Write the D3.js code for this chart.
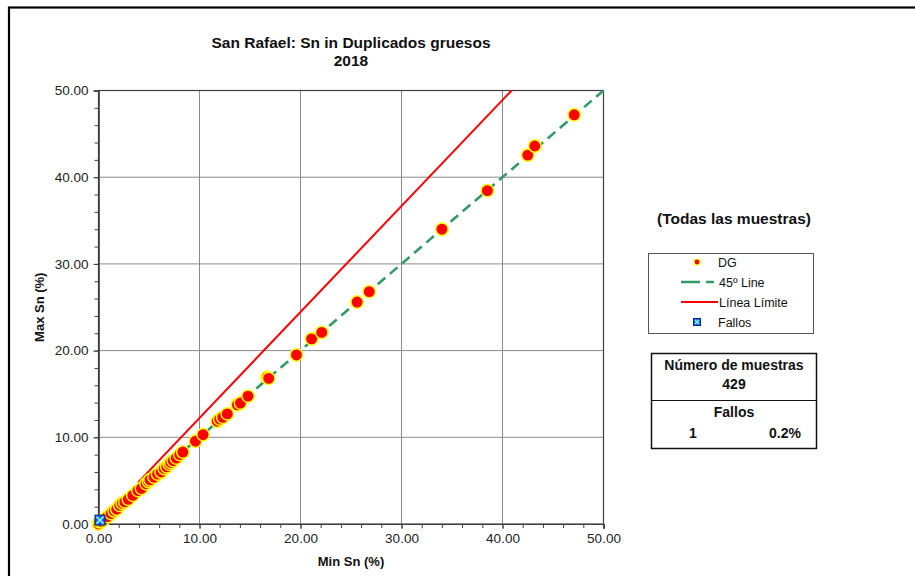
<!DOCTYPE html>
<html>
<head>
<meta charset="utf-8">
<script src="https://cdn.jsdelivr.net/npm/d3@7"></script>
<style>
  html, body { margin: 0; padding: 0; background: #fff; }
  svg { display: block; font-family: "Liberation Sans", Arial, sans-serif; }
</style>
</head>
<body>
<svg id="chart" width="915" height="576"></svg>
<script>
// Duplicate pairs (coarse duplicates, Sn %): lower and higher of each pair
const minSn = [
  0.00, 0.10, 0.30, 0.55, 0.90, 1.25, 1.55, 1.80, 2.10, 2.35, 2.60, 2.95, 3.40,
  3.90, 4.25, 4.70, 4.95, 5.10, 5.50, 5.85, 6.20, 6.50, 6.75, 7.00, 7.15, 7.40,
  7.70, 8.05, 8.35,
  9.60, 10.35, 11.75, 12.00, 12.30, 12.75, 13.75, 14.05, 14.80, 16.70, 16.85,
  19.60, 21.10, 22.10, 25.60, 26.80, 34.00, 38.50, 42.50, 43.20, 47.10
];
const maxSn = [
  0.00, 0.25, 0.30, 0.50, 0.85, 1.20, 1.50, 1.70, 2.15, 2.40, 2.55, 2.85, 3.30,
  3.85, 4.10, 4.65, 4.90, 5.10, 5.40, 5.75, 6.00, 6.40, 6.60, 6.90, 7.10, 7.30,
  7.60, 8.00, 8.30,
  9.55, 10.30, 11.85, 12.10, 12.30, 12.70, 13.75, 13.95, 14.75, 16.90, 16.80,
  19.50, 21.35, 22.10, 25.60, 26.80, 34.00, 38.45, 42.55, 43.60, 47.20
];

// Reference 1:1 line and the acceptance limit line (max = min * 11/9)
const line45X = [0, 50];
const line45Y = [0, 50];
const limitX = [3.9, 40.9];
const limitY = [4.77, 50];

// Failed pairs
const fallosMin = [0.15];
const fallosMax = [0.45];

const axisTicks = [0, 10, 20, 30, 40, 50];
const minorTicks = d3.range(0, 50.001, 2);

const titleLines = ["San Rafael: Sn in Duplicados gruesos", "2018"];
const xLabel = "Min Sn (%)";
const yLabel = "Max Sn (%)";
const subsetLabel = "(Todas las muestras)";
const legendItems = ["DG", "45º Line", "Línea Límite", "Fallos"];
const totalSamples = 429;
const fallosCount = 1;
const fallosPct = "0.2%";

const svg = d3.select("#chart");
const x = d3.scaleLinear().domain([0, 50]).range([98.5, 603.5]);
const y = d3.scaleLinear().domain([0, 50]).range([524, 90.5]);

// outer frame
svg.append("rect").attr("x", 9).attr("y", 7.5).attr("width", 940).attr("height", 600)
  .attr("fill", "none").attr("stroke", "#000").attr("stroke-width", 2.2);

// title
svg.append("g").selectAll("text").data(titleLines).join("text")
  .attr("x", (x(0) + x(50)) / 2).attr("y", (d, i) => 48 + i * 18)
  .attr("text-anchor", "middle").attr("font-size", 15.5).attr("font-weight", "bold")
  .attr("fill", "#111").text(d => d);

// grid
const grid = svg.append("g");
grid.selectAll("line.gx").data(axisTicks.slice(1, -1)).join("line")
  .attr("x1", d => x(d)).attr("x2", d => x(d)).attr("y1", y(0)).attr("y2", y(50))
  .attr("stroke", "#8a8a8a").attr("stroke-width", 1);
grid.selectAll("line.gy").data(axisTicks.slice(1, -1)).join("line")
  .attr("x1", x(0)).attr("x2", x(50)).attr("y1", d => y(d)).attr("y2", d => y(d))
  .attr("stroke", "#8a8a8a").attr("stroke-width", 1);

// plot frame
svg.append("rect").attr("x", x(0)).attr("y", y(50))
  .attr("width", x(50) - x(0)).attr("height", y(0) - y(50))
  .attr("fill", "none").attr("stroke", "#404040").attr("stroke-width", 1.2);

// axes
const fmt = d3.format(".2f");
const xMinor = svg.append("g").attr("transform", `translate(0,${y(0)})`)
  .call(d3.axisBottom(x).tickValues(minorTicks).tickSize(4).tickFormat(""));
const xAxis = svg.append("g").attr("transform", `translate(0,${y(0)})`)
  .call(d3.axisBottom(x).tickValues(axisTicks).tickSize(5).tickPadding(4).tickFormat(fmt));
const yMinor = svg.append("g").attr("transform", `translate(${x(0)},0)`)
  .call(d3.axisLeft(y).tickValues(minorTicks).tickSize(4).tickFormat(""));
const yAxis = svg.append("g").attr("transform", `translate(${x(0)},0)`)
  .call(d3.axisLeft(y).tickValues(axisTicks).tickSize(5).tickPadding(5).tickFormat(fmt));
[xMinor, xAxis, yMinor, yAxis].forEach(g => {
  g.select(".domain").attr("stroke", "#404040").attr("stroke-width", 1.2);
  g.selectAll(".tick line").attr("stroke", "#404040");
  g.selectAll("text").attr("font-size", 13.5).attr("fill", "#222")
    .attr("font-family", "Liberation Sans, Arial, sans-serif");
});

// axis titles
svg.append("text").attr("x", (x(0) + x(50)) / 2).attr("y", 566)
  .attr("text-anchor", "middle").attr("font-size", 13).attr("font-weight", "bold")
  .attr("fill", "#111").text(xLabel);
svg.append("text").attr("transform", `translate(44,${(y(0) + y(50)) / 2}) rotate(-90)`)
  .attr("text-anchor", "middle").attr("font-size", 13).attr("font-weight", "bold")
  .attr("fill", "#111").text(yLabel);

// 45º line and limit line
const lineGen = d3.line().x(d => x(d[0])).y(d => y(d[1]));
svg.append("path").datum(d3.zip(line45X, line45Y)).attr("d", lineGen)
  .attr("fill", "none").attr("stroke", "#339966").attr("stroke-width", 2.6)
  .attr("stroke-dasharray", "10,6");
svg.append("path").datum(d3.zip(limitX, limitY)).attr("d", lineGen)
  .attr("fill", "none").attr("stroke", "#ff0000").attr("stroke-width", 2);

// DG points
svg.append("g").selectAll("circle").data(d3.zip(minSn, maxSn)).join("circle")
  .attr("cx", d => x(d[0])).attr("cy", d => y(d[1])).attr("r", 6.2)
  .attr("fill", "#ff0000").attr("stroke", "#ffff00").attr("stroke-width", 1.5);

// failure marker
function fallosMarker(g, cx, cy, s) {
  g.append("rect").attr("x", cx - s / 2).attr("y", cy - s / 2).attr("width", s).attr("height", s)
    .attr("fill", "#1f5fd8").attr("stroke", "#002a80").attr("stroke-width", 1);
  const k = s / 2 - 1.5;
  g.append("path").attr("d", `M${cx - k},${cy - k}L${cx + k},${cy + k}M${cx - k},${cy + k}L${cx + k},${cy - k}`)
    .attr("stroke", "#7ff5ff").attr("stroke-width", 1.6);
}
const fg = svg.append("g");
d3.zip(fallosMin, fallosMax).forEach(d => fallosMarker(fg, x(d[0]), y(d[1]), 10));

// subset label
svg.append("text").attr("x", 734).attr("y", 224).attr("text-anchor", "middle")
  .attr("font-size", 15.5).attr("font-weight", "bold").attr("fill", "#111").text(subsetLabel);

// legend
const lg = svg.append("g");
lg.append("rect").attr("x", 648.5).attr("y", 253.5).attr("width", 165).attr("height", 80)
  .attr("fill", "#fff").attr("stroke", "#555").attr("stroke-width", 1);
const rowY = [262, 282, 302, 322];
lg.append("circle").attr("cx", 697).attr("cy", rowY[0]).attr("r", 3)
  .attr("fill", "#ff0000").attr("stroke", "#ffff00").attr("stroke-width", 1.2);
lg.append("line").attr("x1", 681).attr("x2", 714).attr("y1", rowY[1]).attr("y2", rowY[1])
  .attr("stroke", "#339966").attr("stroke-width", 2.6).attr("stroke-dasharray", "19,6");
lg.append("line").attr("x1", 681).attr("x2", 718).attr("y1", rowY[2]).attr("y2", rowY[2])
  .attr("stroke", "#ff0000").attr("stroke-width", 2);
fallosMarker(lg, 697, rowY[3], 7);
lg.selectAll("text").data(legendItems).join("text")
  .attr("x", (d, i) => i === 0 || i === 3 ? 718 : 719).attr("y", (d, i) => rowY[i] + 4.5)
  .attr("font-size", 12.5).attr("fill", "#111").text(d => d);

// sample count box
const sb = svg.append("g").attr("font-weight", "bold").attr("font-size", 14).attr("fill", "#111");
sb.append("rect").attr("x", 651.5).attr("y", 353.5).attr("width", 165).attr("height", 95)
  .attr("fill", "#fff").attr("stroke", "#111").attr("stroke-width", 1.5);
sb.append("line").attr("x1", 651.5).attr("x2", 816.5).attr("y1", 400.5).attr("y2", 400.5)
  .attr("stroke", "#111").attr("stroke-width", 1);
sb.append("text").attr("x", 734).attr("y", 370).attr("text-anchor", "middle").text("Número de muestras");
sb.append("text").attr("x", 734).attr("y", 389).attr("text-anchor", "middle").text(totalSamples);
sb.append("text").attr("x", 734).attr("y", 417).attr("text-anchor", "middle").text("Fallos");
sb.append("text").attr("x", 693).attr("y", 438).attr("text-anchor", "middle").text(fallosCount);
sb.append("text").attr("x", 785).attr("y", 438).attr("text-anchor", "middle").text(fallosPct);
</script>
</body>
</html>
